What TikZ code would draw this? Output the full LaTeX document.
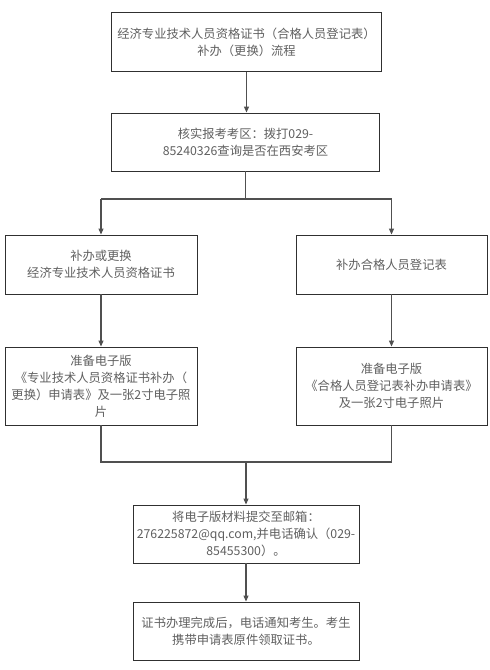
\documentclass[tikz,border=0pt]{standalone}
\usepackage{fontspec}
\setmainfont{Noto Sans CJK SC}
\usetikzlibrary{arrows.meta}
\definecolor{txt}{HTML}{606060}
\definecolor{bord}{HTML}{303030}
\definecolor{conn}{HTML}{505050}
\tikzset{
  box/.style={draw=bord, line width=0.9pt, rectangle, align=center, text=txt,
    font=\fontsize{12.3}{17}\selectfont, inner sep=0pt},
  conline/.style={draw=conn, line width=1.1pt},
  conarrow/.style={conline, -{Triangle[length=6pt,width=5pt]}},
}
\begin{document}
\begin{tikzpicture}[x=1pt,y=-1pt]
\useasboundingbox (0,0) rectangle (490,670);
\fill[white] (0,0) rectangle (490,670);
\node[box, minimum width=270, minimum height=59] (b1) at (246.5,42)
  {经济专业技术人员资格证书（合格人员登记表）\\补办（更换）流程};
\node[box, minimum width=268, minimum height=58] (b2) at (245.5,142)
  {核实报考考区：拨打029-\\85240326查询是否在西安考区};
\node[box, minimum width=192, minimum height=59] (b3) at (101,264.5)
  {补办或更换\\经济专业技术人员资格证书};
\node[box, minimum width=191, minimum height=59] (b4) at (391.5,264.5)
  {补办合格人员登记表};
\node[box, minimum width=192, minimum height=78] (b5) at (101,386)
  {准备电子版\\《专业技术人员资格证书补办（\\更换）申请表》及一张2寸电子照\\片};
\node[box, minimum width=191, minimum height=78] (b6) at (391.5,386)
  {准备电子版\\《合格人员登记表补办申请表》\\及一张2寸电子照片};
\node[box, minimum width=226, minimum height=58] (b7) at (246,534)
  {将电子版材料提交至邮箱：\\276225872@qq.com,并电话确认（029-\\85455300）。};
\node[box, minimum width=226, minimum height=58] (b8) at (246,631)
  {证书办理完成后，电话通知考生。考生\\携带申请表原件领取证书。};
\coordinate (s1) at (245.5,199);
\coordinate (s1l) at (101,199);
\coordinate (s1r) at (391.5,199);
\coordinate (m1) at (246,462);
\coordinate (m1l) at (101,462);
\coordinate (m1r) at (391.5,462);
\draw[conarrow] (b1.south) -- (b2.north -| b1.south);
\draw[conline] (b2.south) -- (s1);
\draw[conline] (s1l) -- (s1r);
\draw[conarrow] (s1l) -- (b3.north);
\draw[conarrow] (s1r) -- (b4.north);
\draw[conarrow] (b3.south) -- (b5.north);
\draw[conarrow] (b4.south) -- (b6.north);
\draw[conline] (b5.south) -- (m1l) -- (m1r) -- (b6.south);
\draw[conarrow] (m1) -- (b7.north);
\draw[conarrow] (b7.south) -- (b8.north);
\end{tikzpicture}
\end{document}
